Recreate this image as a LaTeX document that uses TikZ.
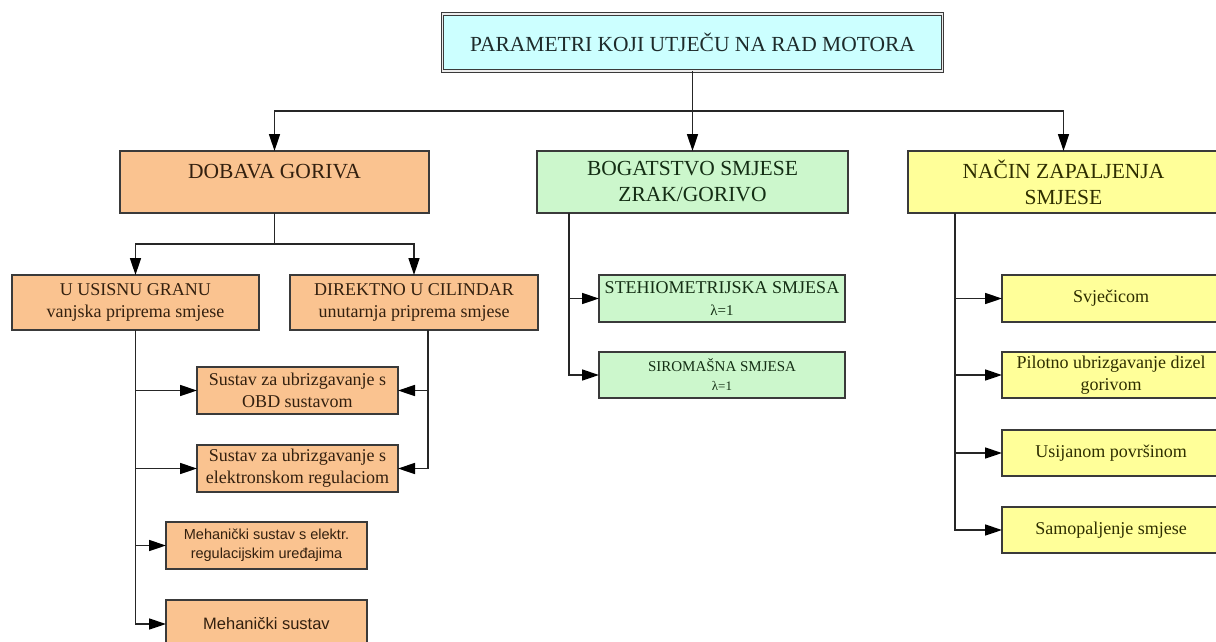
\documentclass[tikz,border=0pt]{standalone}
\usepackage{fontspec}
\setmainfont{Liberation Serif}
\newfontfamily\sansf{Liberation Sans}
\usetikzlibrary{arrows.meta}
\definecolor{cyanbox}{HTML}{CCFFFF}
\definecolor{orangebox}{HTML}{FAC390}
\definecolor{greenbox}{HTML}{CCF7CC}
\definecolor{yellowbox}{HTML}{FFFF99}
\definecolor{cyantext}{HTML}{1E2B2B}
\definecolor{orangetext}{HTML}{33200F}
\definecolor{greentext}{HTML}{142E14}
\definecolor{yellowtext}{HTML}{2E2E00}
\definecolor{edge}{HTML}{3A3A3A}
\tikzset{
  box/.style={draw=edge, line width=1.5pt, inner sep=0pt, outer sep=0pt, align=center},
  lvlone/.style={box, font=\fontsize{21.5}{26}\selectfont},
  lvltwo/.style={box, font=\fontsize{18}{22}\selectfont},
  obox/.style={fill=orangebox, text=orangetext},
  gbox/.style={fill=greenbox, text=greentext},
  ybox/.style={fill=yellowbox, text=yellowtext},
  conn/.style={draw=black!85, line width=1.5pt},
  arr/.style={conn, -{Triangle[length=17pt,width=11pt,color=black]}}
}
\begin{document}
\begin{tikzpicture}[x=1pt,y=-1pt]
\useasboundingbox (0,0) rectangle (1216,641);
\clip (0,0) rectangle (1216,641);
\fill[white] (0,0) rectangle (1216,641);
% top
\node[lvlone, fill=cyanbox, text=cyantext, draw=edge, line width=1.1pt, double=white!85!gray, double distance=1.6pt,
  minimum width=500pt, minimum height=57pt] (top) at (692.5,42.5) {PARAMETRI KOJI UTJEČU NA RAD MOTORA};
% level one
\node[lvlone, obox, minimum width=309pt, minimum height=62pt, text depth=22pt] (dob) at (274.5,182) {DOBAVA GORIVA};
\node[lvlone, gbox, minimum width=311pt, minimum height=62pt] (bog) at (692.5,182) {BOGATSTVO SMJESE\\ZRAK/GORIVO};
\node[lvlone, ybox, minimum width=311pt, minimum height=62pt] (nac) at (1063.5,182) {NAČIN ZAPALJENJA\\SMJESE};
% level two (orange)
\node[lvltwo, obox, minimum width=247pt, minimum height=55pt] (usi) at (135.5,302.5) {U USISNU GRANU\\vanjska priprema smjese};
\node[lvltwo, obox, minimum width=248pt, minimum height=55pt] (dir) at (414,302.5) {DIREKTNO U CILINDAR\\unutarnja priprema smjese};
\node[lvltwo, obox, minimum width=201pt, minimum height=47pt] (obd) at (297.5,390.5) {Sustav za ubrizgavanje s\\OBD sustavom};
\node[lvltwo, obox, minimum width=201pt, minimum height=47pt] (ele) at (297.5,468.5) {Sustav za ubrizgavanje s\\elektronskom regulaciom};
\node[box, obox, minimum width=201pt, minimum height=47pt, font=\sansf\fontsize{14.5}{19}\selectfont] (meh1) at (266.5,545.5) {Mehanički sustav s elektr.\\regulacijskim uređajima};
\node[box, obox, minimum width=201pt, minimum height=48pt, font=\sansf\fontsize{16.5}{20}\selectfont] (meh2) at (266.5,624) {Mehanički sustav};
% green children
\node[lvltwo, gbox, minimum width=246pt, minimum height=47pt] (ste) at (722,298.5) {STEHIOMETRIJSKA SMJESA\\{\fontsize{15}{18}\selectfont λ=1}};
\node[box, gbox, minimum width=246pt, minimum height=46pt, font=\fontsize{15}{19}\selectfont] (sir) at (722,375) {SIROMAŠNA SMJESA\\{\fontsize{13}{16}\selectfont λ=1}};
% yellow children
\node[lvltwo, ybox, minimum width=218pt, minimum height=47pt] (svj) at (1111,298.5) {Svječicom};
\node[lvltwo, ybox, minimum width=218pt, minimum height=46pt] (pil) at (1111,375) {Pilotno ubrizgavanje dizel\\gorivom};
\node[lvltwo, ybox, minimum width=218pt, minimum height=46pt] (usij) at (1111,453) {Usijanom površinom};
\node[lvltwo, ybox, minimum width=218pt, minimum height=46pt] (sam) at (1111,530) {Samopaljenje smjese};
% top connectors
\coordinate (j) at (692.5,111);
\draw[arr] (top.south) -- (bog.north);
\draw[arr] (j) -| (dob.north);
\draw[arr] (j) -| (nac.north);
% dobava
\coordinate (j2) at (274.5,244);
\draw[conn] (dob.south) -- (j2);
\draw[arr] (j2) -| (usi.north);
\draw[arr] (j2) -| (dir.north);
\draw[arr] (usi.south) |- (meh2.west);
\draw[arr] (usi.south |- obd.west) -- (obd.west);
\draw[arr] (usi.south |- ele.west) -- (ele.west);
\draw[arr] (usi.south |- meh1.west) -- (meh1.west);
\coordinate (d0) at ([xshift=14pt]dir.south);
\draw[arr] (d0) |- (ele.east);
\draw[arr] (d0 |- obd.east) -- (obd.east);
% bogatstvo
\coordinate (b0) at ([xshift=32pt]bog.south west);
\draw[arr] (b0) |- (sir.west);
\draw[arr] (b0 |- ste.west) -- (ste.west);
% nacin
\coordinate (n0) at ([xshift=47pt]nac.south west);
\draw[arr] (n0) |- (sam.west);
\draw[arr] (n0 |- svj.west) -- (svj.west);
\draw[arr] (n0 |- pil.west) -- (pil.west);
\draw[arr] (n0 |- usij.west) -- (usij.west);
\end{tikzpicture}
\end{document}
